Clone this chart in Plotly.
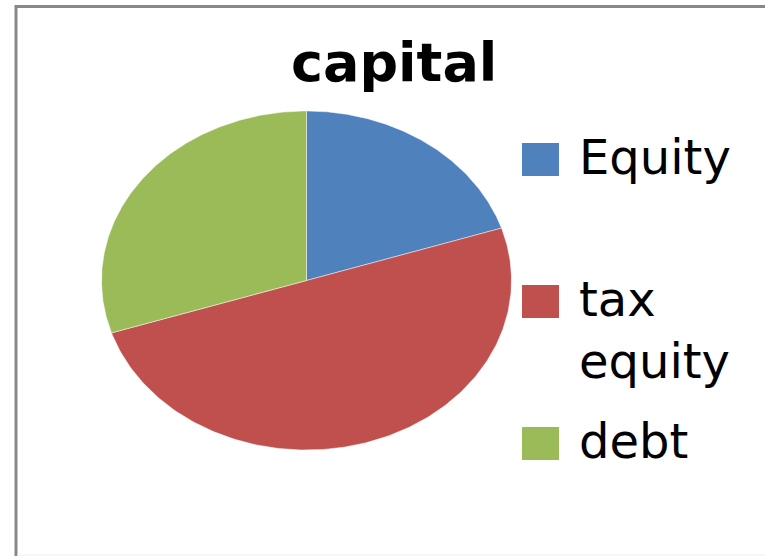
import numpy as np
import plotly.graph_objects as go

labels = ["Equity", "tax equity", "debt"]
legend_text = ["Equity", "tax<br>equity", "debt"]
values = [20, 50, 30]
colors = ["#4F81BD", "#C0504D", "#9BBB59"]
title = "capital"

W, H = 765, 556
fig = go.Figure()

total = sum(values)
cum = 0.0
for lab, v, c in zip(labels, values, colors):
    a0 = np.pi / 2 - 2 * np.pi * cum / total
    a1 = np.pi / 2 - 2 * np.pi * (cum + v) / total
    t = np.linspace(a0, a1, 200)
    xs = np.concatenate([[0], np.cos(t), [0]])
    ys = np.concatenate([[0], np.sin(t), [0]])
    fig.add_trace(go.Scatter(x=xs, y=ys, fill="toself", fillcolor=c, mode="lines",
                             line=dict(color="rgba(255,255,255,0.6)", width=0.8),
                             name=lab, hoverinfo="name", showlegend=False))
    cum += v

def px_x(p):
    return p / W

def px_y(p):
    return 1 - p / H

fig.update_layout(
    width=W, height=H,
    margin=dict(l=0, r=0, t=0, b=0),
    paper_bgcolor="white", plot_bgcolor="white",
    xaxis=dict(range=[-1, 1], domain=[px_x(101.5), px_x(511.5)], visible=False, fixedrange=True),
    yaxis=dict(range=[-1, 1], domain=[px_y(450), px_y(111)], visible=False, fixedrange=True),
    showlegend=False,
)

fig.add_annotation(text="<b>" + title + "</b>", xref="paper", yref="paper",
                   x=px_x(394), y=px_y(63), xanchor="center", yanchor="middle",
                   showarrow=False, font=dict(family="DejaVu Sans", size=54, color="black"))

sq_tops = [143, 285, 427]
for txt, c, top in zip(legend_text, colors, sq_tops):
    fig.add_shape(type="rect", xref="paper", yref="paper",
                  x0=px_x(522), x1=px_x(559), y0=px_y(top + 33), y1=px_y(top),
                  fillcolor=c, line=dict(width=0))
    fig.add_annotation(text=txt, xref="paper", yref="paper",
                       x=px_x(577), y=px_y(top - 16), xanchor="left", yanchor="top",
                       align="left", showarrow=False,
                       font=dict(family="DejaVu Sans", size=48, color="black"))

# chart border
fig.add_shape(type="line", xref="paper", yref="paper", x0=px_x(16), x1=px_x(16),
              y0=0, y1=px_y(5), line=dict(color="#888888", width=3))
fig.add_shape(type="line", xref="paper", yref="paper", x0=px_x(15), x1=1,
              y0=px_y(6.5), y1=px_y(6.5), line=dict(color="#888888", width=3))
fig.add_shape(type="line", xref="paper", yref="paper", x0=px_x(17), x1=1,
              y0=px_y(555), y1=px_y(555), line=dict(color="#eeeeee", width=1))

fig.write_html("out.html")
